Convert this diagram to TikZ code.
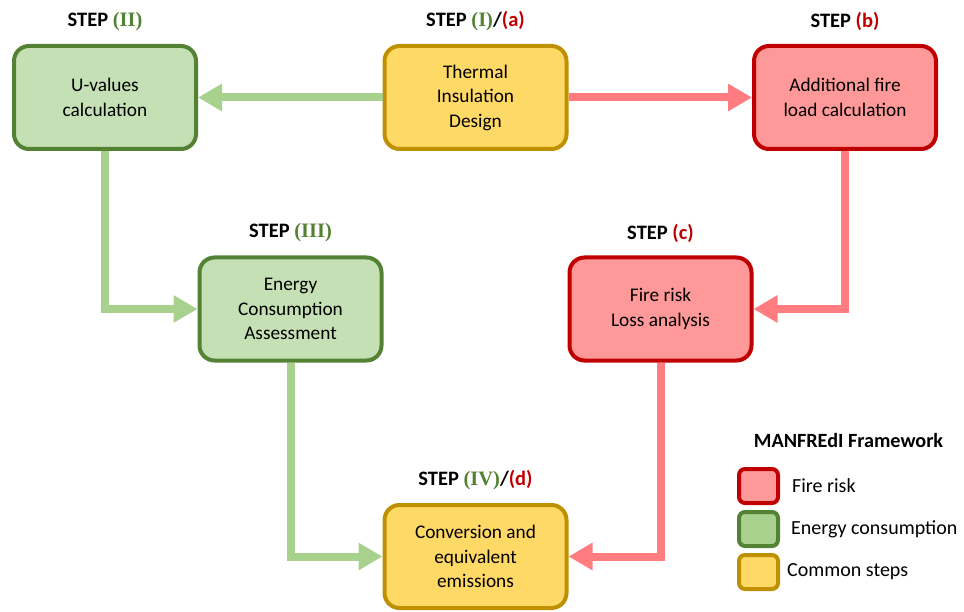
\documentclass[tikz,border=0pt]{standalone}
\usepackage{fontspec}
\setmainfont{Carlito}
\newfontfamily\numfont{Liberation Serif}
\usepackage{xcolor}
\usetikzlibrary{arrows.meta,positioning}

\definecolor{grnfill}{HTML}{C5E0B4}
\definecolor{grndraw}{HTML}{548235}
\definecolor{grnarr}{HTML}{A9D18E}
\definecolor{redfill}{HTML}{FF9999}
\definecolor{reddraw}{HTML}{C00000}
\definecolor{redarr}{HTML}{FF7C80}
\definecolor{yelfill}{HTML}{FFD966}
\definecolor{yeldraw}{HTML}{BF9000}

\newcommand{\grn}[1]{{\numfont\bfseries\color{grndraw}#1}}
\newcommand{\rd}[1]{{\bfseries\color{reddraw}#1}}

\begin{document}
\begin{tikzpicture}[
    x=1pt, y=-1pt,
    font=\fontsize{19.3}{24.5}\selectfont,
    box/.style    = {draw, line width=4pt, rounded corners=15pt, align=center,
                     minimum width=182pt, minimum height=103pt, inner sep=2pt},
    enerbox/.style = {box, fill=grnfill, draw=grndraw},
    firebox/.style = {box, fill=redfill, draw=reddraw},
    commbox/.style = {box, fill=yelfill, draw=yeldraw},
    steplbl/.style = {font=\fontsize{20.5}{24}\selectfont\bfseries, inner sep=1pt},
    legbox/.style  = {draw, line width=4pt, rounded corners=6pt,
                      minimum width=39pt, minimum height=34pt},
    legtxt/.style  = {anchor=west, inner sep=0pt, font=\fontsize{20}{24}\selectfont},
    garr/.style   = {-{Triangle[length=24pt,width=26pt]}, line width=8pt, grnarr},
    rarr/.style   = {-{Triangle[length=24pt,width=26pt]}, line width=8pt, redarr},
]
\useasboundingbox (0,0) rectangle (964,612);

% ============ Top row ============
\node[commbox] (thermal) at (475.5,97.5) {Thermal\\Insulation\\Design};
\node[enerbox] (uval)    at (105,97.5)   {U-values\\calculation};
\node[firebox] (fload)   at (845,97.5)   {Additional fire\\load calculation};

% ============ Middle row ============
\node[enerbox] (energy)  at (290.5,309)  {Energy\\Consumption\\Assessment};
\node[firebox] (frisk)   at (660.5,309)  {Fire risk\\Loss analysis};

% ============ Bottom ============
\node[commbox] (conv)    at (475.5,556.5) {Conversion and\\equivalent\\emissions};

% step labels
\node[steplbl, above=12pt of uval]    (s2)  {STEP \grn{(II)}};
\node[steplbl, above=12pt of thermal] (s1a) {STEP \grn{(I)}/\rd{(a)}};
\node[steplbl, above=12pt of fload]   (sb)  {STEP \rd{(b)}};
\node[steplbl, above=12pt of energy]  (s3)  {STEP \grn{(III)}};
\node[steplbl, above=12pt of frisk]   (sc)  {STEP \rd{(c)}};
\node[steplbl, above=12pt of conv]    (s4d) {STEP \grn{(IV)}/\rd{(d)}};

% connectors
\draw[garr] (thermal.west) -- (uval.east);
\draw[rarr] (thermal.east) -- (fload.west);
\draw[garr] (uval.south) |- (energy.west);
\draw[rarr] (fload.south) |- (frisk.east);
\draw[garr] (energy.south) |- (conv.west);
\draw[rarr] (frisk.south) |- (conv.east);

% ============ Legend ============
\node[font=\fontsize{20.2}{24}\selectfont\bfseries] (legtitle) at (848.5,440) {MANFREdI Framework};
\node[legbox, fill=redfill, draw=reddraw] (lfire) at (758.5,486) {};
\node[legbox, fill=grnarr, draw=grndraw]  (lener) at (758.5,529) {};
\node[legbox, fill=yelfill, draw=yeldraw] (lcomm) at (758.5,572) {};
\node[legtxt, right=12pt of lfire] (tfire) {Fire risk};
\node[legtxt, right=11pt of lener] (tener) {Energy consumption};
\node[legtxt, right=7pt of lcomm]  (tcomm) {Common steps};

\end{tikzpicture}
\end{document}
